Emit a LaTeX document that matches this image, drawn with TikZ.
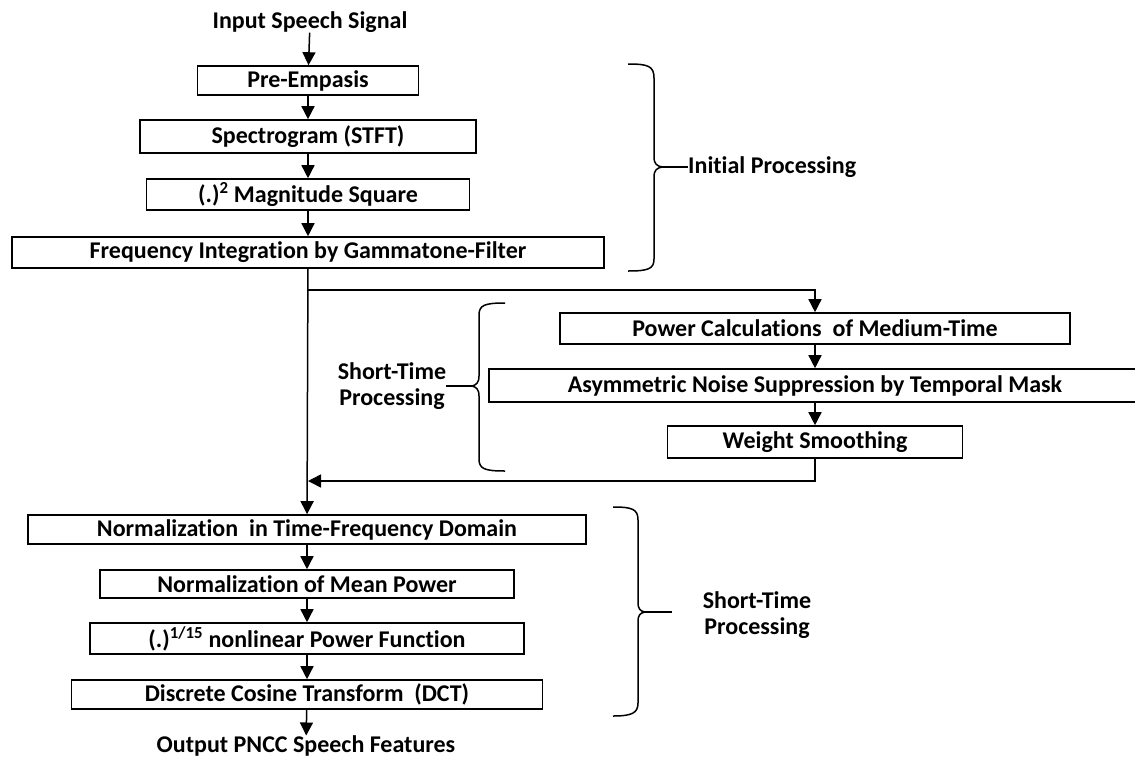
\documentclass[tikz,border=0pt]{standalone}
\usepackage{fontspec}
\setmainfont[Ligatures=NoCommon]{Carlito}
\usetikzlibrary{positioning,arrows.meta}

\begin{document}
\begin{tikzpicture}[x=1pt,y=1pt,yscale=-1,xscale=1,
  box/.style={draw=black,line width=1.6pt,inner sep=0pt,font=\fontsize{24}{26}\selectfont\bfseries,align=center},
  lbl/.style={inner sep=0pt,font=\fontsize{24}{26}\selectfont\bfseries,align=center},
  flow/.style={line width=1.5pt,-{Triangle[length=13pt,width=13pt]}},
  link/.style={line width=1.5pt},
  bracket/.style={line width=1.5pt}]

\useasboundingbox (0,0) rectangle (1135,758);

% Text Node
\node (in) at (310,22) [lbl] {Input Speech Signal};
\node (out) at (306,746) [lbl] {Output PNCC Speech Features};

\node (pre) at (308,80.5) [box,minimum width=221pt,minimum height=29pt] {Pre-Empasis};
\node (spec) at (308,136.5) [box,minimum width=336pt,minimum height=33pt] {Spectrogram (STFT)};
\node (mag) at (308,194.5) [box,minimum width=323pt,minimum height=31pt] {(.)\textsuperscript{2} Magnitude Square};
\node (freq) at (308,252.5) [box,minimum width=592pt,minimum height=31pt] {Frequency Integration by Gammatone-Filter};

\node (power) at (815,328.5) [box,minimum width=510pt,minimum height=31pt] {Power Calculations \ of Medium-Time};
\node (asym) at (815,385.5) [box,minimum width=652pt,minimum height=33pt] {Asymmetric Noise Suppression by Temporal Mask};
\node (weight) at (815,442) [box,minimum width=295pt,minimum height=32pt] {Weight Smoothing};

\node (normtf) at (307,529.5) [box,minimum width=558pt,minimum height=29pt] {Normalization \ in Time-Frequency Domain};
\node (mean) at (307,584) [box,minimum width=414pt,minimum height=28pt] {Normalization of Mean Power};
\node (nonlin) at (307,638.5) [box,minimum width=434pt,minimum height=31pt] {(.)\textsuperscript{1/15} nonlinear Power Function};
\node (dct) at (307,694.5) [box,minimum width=471pt,minimum height=29pt] {Discrete Cosine Transform \ (DCT)};

% main chain
\draw [flow] (in) -- (pre);
\draw [flow] (pre) -- (spec);
\draw [flow] (spec) -- (mag);
\draw [flow] (mag) -- (freq);
\draw [flow] (freq) -- (normtf);
\draw [flow] (normtf) -- (mean);
\draw [flow] (mean) -- (nonlin);
\draw [flow] (nonlin) -- (dct);
\draw [flow] (dct) -- (out);

% side branch
\coordinate (split) at (308,290);
\coordinate (join) at (308,481);
\draw [flow] (split) -| (power);
\draw [flow] (power) -- (asym);
\draw [flow] (asym) -- (weight);
\draw [flow] (weight) |- (join);

% braces
\draw [bracket] (628,64) .. controls (648,64) and (654,66) .. (654,78) -- (654,157) .. controls (654,164) and (657,166) .. (662,167) .. controls (657,168) and (654,170) .. (654,177) -- (654,259) .. controls (654,269) and (648,271) .. (628,271);
\coordinate (tipA) at (662,167);
\node (init) at (688,167) [lbl,anchor=west] {Initial Processing};
\draw [link] (tipA) -- (init.west);

\draw [bracket] (505,303) .. controls (485,303) and (479,305) .. (479,315) -- (479,376) .. controls (479,383) and (476,385) .. (472,386) .. controls (476,387) and (479,389) .. (479,396) -- (479,459) .. controls (479,469) and (485,471) .. (505,471);
\coordinate (tipB) at (472,386);
\node (shortA) at (392,386) [lbl] {Short-Time\\Processing};
\draw [link] (shortA.east) -- (tipB);

\draw [bracket] (613,507) .. controls (632,507) and (638,509) .. (638,520) -- (638,602) .. controls (638,609) and (640,611) .. (645,612) .. controls (640,613) and (638,615) .. (638,622) -- (638,703) .. controls (638,713) and (632,716) .. (613,716);
\coordinate (tipC) at (645,612);
\coordinate (endC) at (672,612);
\node (shortB) at (757,615) [lbl] {Short-Time\\Processing};
\draw [link] (tipC) -- (endC);

\end{tikzpicture}
\end{document}
